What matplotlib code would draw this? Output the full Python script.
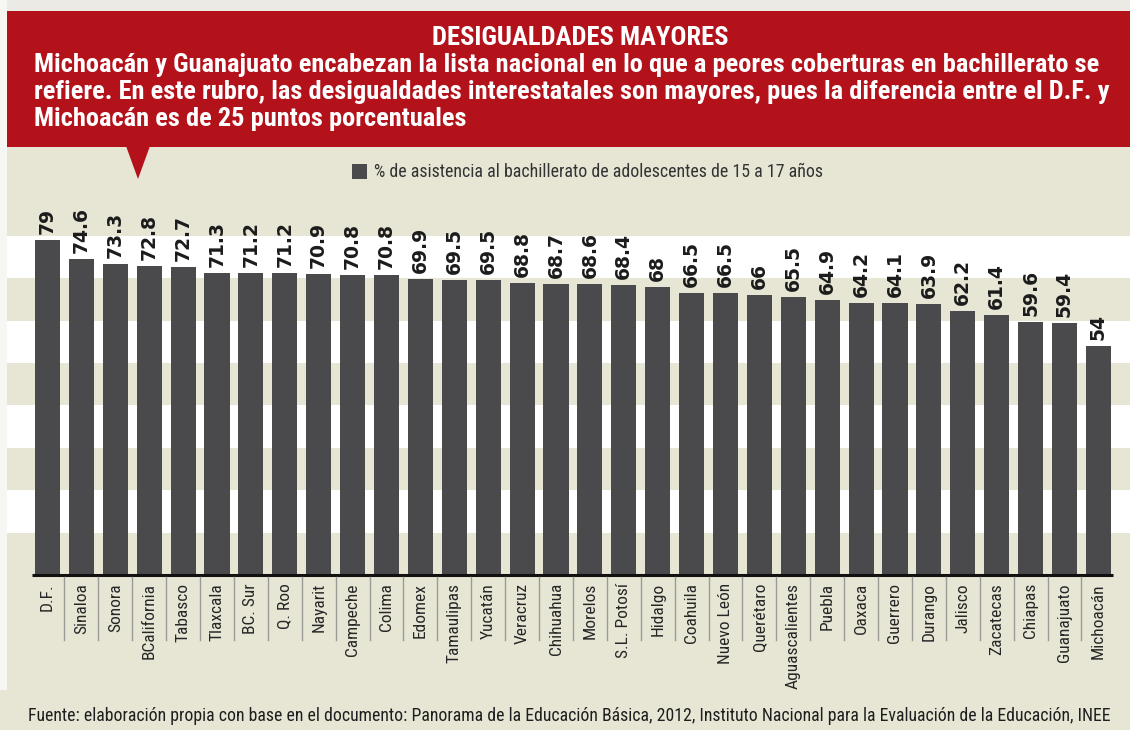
import numpy as np
import matplotlib
matplotlib.use("Agg")
import matplotlib.pyplot as plt
from matplotlib import font_manager as fm
from matplotlib.patches import Rectangle, Polygon
from matplotlib.lines import Line2D

# ---------------- data ----------------
states = ["D.F.", "Sinaloa", "Sonora", "BCalifornia", "Tabasco", "Tlaxcala",
          "BC. Sur", "Q. Roo", "Nayarit", "Campeche", "Colima", "Edomex",
          "Tamaulipas", "Yucatán", "Veracruz", "Chihuahua", "Morelos",
          "S.L. Potosí", "Hidalgo", "Coahuila", "Nuevo León", "Querétaro",
          "Aguascalientes", "Puebla", "Oaxaca", "Guerrero", "Durango",
          "Jalisco", "Zacatecas", "Chiapas", "Guanajuato", "Michoacán"]
values = [79, 74.6, 73.3, 72.8, 72.7, 71.3, 71.2, 71.2, 70.9, 70.8, 70.8, 69.9,
          69.5, 69.5, 68.8, 68.7, 68.6, 68.4, 68, 66.5, 66.5, 66, 65.5, 64.9,
          64.2, 64.1, 63.9, 62.2, 61.4, 59.6, 59.4, 54]
value_labels = ["79", "74.6", "73.3", "72.8", "72.7", "71.3", "71.2", "71.2",
                "70.9", "70.8", "70.8", "69.9", "69.5", "69.5", "68.8", "68.7",
                "68.6", "68.4", "68", "66.5", "66.5", "66", "65.5", "64.9",
                "64.2", "64.1", "63.9", "62.2", "61.4", "59.6", "59.4", "54"]
series_name = "% de asistencia al bachillerato de adolescentes de 15 a 17 años"
title = "DESIGUALDADES MAYORES"
subtitle_lines = [
    "Michoacán y Guanajuato encabezan la lista nacional en lo que a peores coberturas en bachillerato se",
    "refiere. En este rubro, las desigualdades interestatales son mayores, pues la diferencia entre el D.F. y",
    "Michoacán es de 25 puntos porcentuales",
]
source = ("Fuente: elaboración propia con base en el documento: Panorama de la Educación Básica, 2012, "
          "Instituto Nacional para la Evaluación de la Educación, INEE")

# ---------------- style ----------------
RED = "#b3121b"
BEIGE = "#e7e6d5"
BAR = "#4a4a4c"
W, H = 1130, 730

names = {f.name for f in fm.fontManager.ttflist}
COND = next((n for n in ["Liberation Sans Narrow", "Roboto Condensed", "Open Sans Condensed",
                         "Noto Sans Condensed", "Liberation Sans", "DejaVu Sans"] if n in names),
            "DejaVu Sans")

fig = plt.figure(figsize=(W / 100, H / 100), dpi=100, facecolor=BEIGE)


def fx(x):
    return x / W


def fy(y):
    return 1 - y / H


# top light strip and left white margin
fig.patches.append(Rectangle((0, fy(11)), 1, 11 / H, transform=fig.transFigure,
                             facecolor="#ebeae4", edgecolor="none", zorder=0))
fig.patches.append(Rectangle((0, fy(690)), fx(7), 690 / H, transform=fig.transFigure,
                             facecolor="#f6f6f2", edgecolor="none", zorder=0))

# ---------------- axes ----------------
PX_PER_UNIT = 4.24
ymax = 82
ax = fig.add_axes([fx(7), fy(575), fx(W - 7), ymax * PX_PER_UNIT / H])
ax.set_facecolor(BEIGE)
x = np.arange(len(states))
pitch = 33.9
x0 = (7 - 47.5) / pitch
x1 = (W - 47.5) / pitch
ax.set_xlim(x0, x1)
ax.set_ylim(0, ymax)
for lo in (10, 30, 50, 70):
    ax.axhspan(lo, lo + 10, color="white", lw=0, zorder=0)
for s in ax.spines.values():
    s.set_visible(False)
ax.set_xticks([])
ax.set_yticks([])

ax.bar(x, values, width=0.74, color=BAR, zorder=2)
ax.plot([-0.46, len(states) - 1 + 0.43], [0, 0], color="#111111", lw=2.2,
        solid_capstyle="butt", clip_on=False, zorder=3)

# separators between category labels
for i in range(1, len(states)):
    ax.add_line(Line2D([i - 0.5, i - 0.5], [-0.5, -15.3], color="#9a9a96", lw=1,
                       clip_on=False, zorder=3))

# value labels
for xi, v, lab in zip(x, values, value_labels):
    ax.text(xi, v + 1.4, lab, rotation=90, ha="center", va="bottom",
            fontsize=13.5, fontweight="bold", family="DejaVu Sans",
            color="#1b1b1b", zorder=4)

# category labels
cat_texts = []
for xi, name in zip(x, states):
    t = ax.text(xi, -1.9, name, rotation=90, ha="center", va="top",
                fontsize=11, family=COND, color="#262626", zorder=4)
    cat_texts.append(t)

# ---------------- header ----------------
fig.patches.append(Rectangle((fx(7), fy(147)), fx(W - 7), (147 - 11) / H,
                             transform=fig.transFigure, facecolor=RED,
                             edgecolor="none", zorder=1))
fig.patches.append(Polygon([(fx(126), fy(146)), (fx(150), fy(146)), (fx(138), fy(179))],
                           closed=True, transform=fig.transFigure, facecolor=RED,
                           edgecolor="none", zorder=1))

t_title = fig.text(fx(580), fy(45), title, ha="center", va="baseline",
                   fontsize=16, fontweight="bold", family=COND, color="white", zorder=5)
sub_texts = []
for k, line in enumerate(subtitle_lines):
    sub_texts.append(fig.text(fx(34), fy(72 + 27 * k), line, ha="left", va="baseline",
                              fontsize=16, fontweight="bold", family=COND,
                              color="white", zorder=5))

# legend
fig.patches.append(Rectangle((fx(352), fy(179)), 15 / W, 15 / H, transform=fig.transFigure,
                             facecolor=BAR, edgecolor="none", zorder=2))
t_leg = fig.text(fx(374), fy(177), series_name, ha="left", va="baseline",
                 fontsize=10, family=COND, color="#333333", zorder=5)

# source
t_src = fig.text(fx(28), fy(721), source, ha="left", va="baseline",
                 fontsize=10, family=COND, color="#1e1e1e", zorder=5)

# ---------------- fit text widths to the reference layout ----------------
fig.canvas.draw()
r = fig.canvas.get_renderer()


def fit_width(t, target):
    for _ in range(2):
        w = t.get_window_extent(renderer=r).width
        t.set_fontsize(t.get_fontsize() * target / w)


fit_width(t_title, 728 - 432)
fit_width(sub_texts[0], 1104 - 34)
for t in sub_texts[1:]:
    t.set_fontsize(sub_texts[0].get_fontsize())
fit_width(t_leg, 822 - 374)
fit_width(t_src, 1080)

ag = cat_texts[states.index("Aguascalientes")]
h = ag.get_window_extent(renderer=r).height
fs = ag.get_fontsize() * 105 / h
for t in cat_texts:
    t.set_fontsize(fs)

fig.savefig("out.png", dpi=100, facecolor=BEIGE)
